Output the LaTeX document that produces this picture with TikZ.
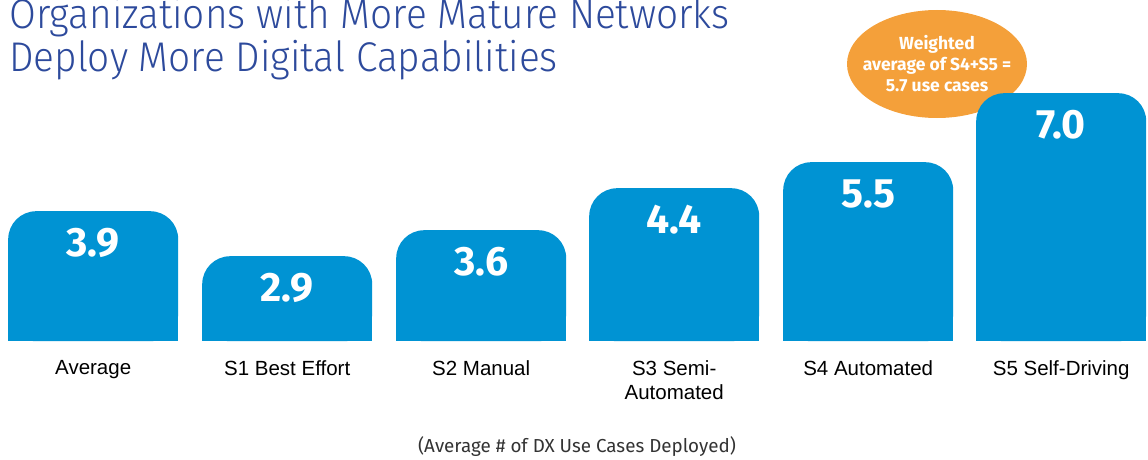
\documentclass[tikz,border=0pt]{standalone}
\usepackage{fontspec}
\usetikzlibrary{shapes.geometric}
\newfontfamily\myrfont{Fira Sans}
\newfontfamily\myrlight{Fira Sans Light}
\newfontfamily\arialfont{Liberation Sans}
\definecolor{barblue}{HTML}{0093D3}
\definecolor{ovalorange}{HTML}{F4A03A}
\definecolor{titleblue}{HTML}{2D4A9C}
\definecolor{captiongray}{HTML}{333333}
\tikzset{
  barbox/.style={fill=barblue, rounded corners=28pt, inner sep=0pt, minimum width=170pt, anchor=north west},
  valtext/.style={text=white, font=\myrfont\bfseries\fontsize{41}{41}\selectfont, inner sep=0pt},
  labtext/.style={text=black, font=\arialfont\fontsize{20.5}{24}\selectfont, inner sep=0pt, align=center, anchor=north},
  titletext/.style={text=titleblue, font=\myrlight\fontsize{41.5}{44}\selectfont, inner sep=0pt, anchor=base west},
}
\begin{document}
\begin{tikzpicture}[x=1pt,y=-1pt]
\useasboundingbox (0,0) rectangle (1148,460);
% title
\node[titletext] (t1) at (9,29) {\scalebox{0.935}[1]{Organizations with More Mature Networks}};
\node[titletext] (t2) at (9,71) {\scalebox{0.935}[1]{Deploy More Digital Capabilities}};
% oval
\node[ellipse, fill=ovalorange, minimum width=180pt, minimum height=108pt, inner sep=0pt] (oval) at (937,64) {};
\node[text=white, align=center, inner sep=0pt, font=\myrfont\bfseries\fontsize{17.5}{21}\selectfont] (ovaltext) at (oval.center)
      {Weighted\\average of S4+S5 =\\5.7 use cases};
% bars
\foreach \n/\x/\top/\v/\l in {1/8/211/3.9/Average, 2/202/256/2.9/S1 Best Effort, 3/396/230/3.6/S2 Manual,
   4/589/188/4.4/{S3 Semi-\\Automated}, 5/783/162/5.5/S4 Automated, 6/976/93/7.0/S5 Self-Driving}{
  \pgfmathsetmacro{\h}{341-\top}
  \node[barbox, minimum height=\h pt] (b\n) at (\x,\top) {};
  \fill[barblue] ([yshift=40pt]b\n.south west) rectangle (b\n.south east);
  \node[valtext] (v\n) at ([yshift=-32pt]b\n.north) {\v};
  \node[labtext] (l\n) at ([yshift=-19pt]b\n.south) {\l};
}
% caption
\node[text=captiongray, font=\myrfont\fontsize{18.8}{20}\selectfont, inner sep=0pt] (cap) at (577,447)
  {(Average \# of DX Use Cases Deployed)};
\end{tikzpicture}
\end{document}
